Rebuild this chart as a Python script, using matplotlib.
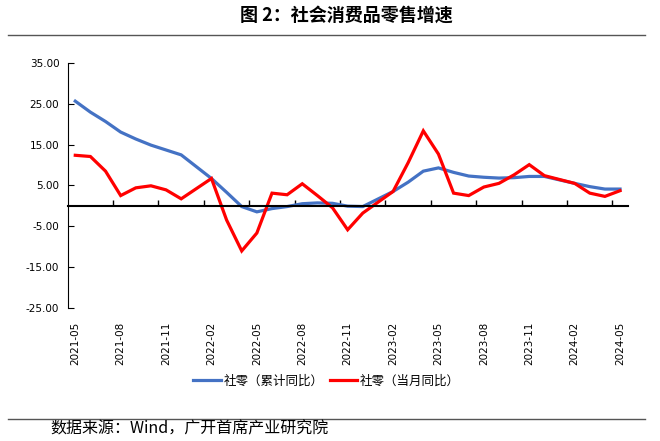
import numpy as np
import matplotlib
matplotlib.use("Agg")
import matplotlib.pyplot as plt
from matplotlib.lines import Line2D
from matplotlib.ticker import FormatStrFormatter

plt.rcParams['font.family'] = ['Noto Sans CJK SC', 'DejaVu Sans']

# months 2021-05 .. 2024-05, January has no separate release
months = []
for y in range(2021, 2025):
    for m in range(1, 13):
        s = f"{y}-{m:02d}"
        if "2021-05" <= s <= "2024-05":
            months.append(s)

nan = np.nan
cum_yoy = [25.7, 23.0, 20.7, 18.1, 16.4, 14.9, 13.7, 12.5, nan, 6.7, 3.3, -0.2,
           -1.5, -0.7, -0.2, 0.5, 0.7, 0.6, -0.1, -0.2, nan, 3.5, 5.8, 8.5,
           9.3, 8.2, 7.3, 7.0, 6.8, 6.9, 7.2, 7.2, nan, 5.5, 4.7, 4.1, 4.1]
month_yoy = [12.4, 12.1, 8.5, 2.5, 4.4, 4.9, 3.9, 1.7, nan, 6.7, -3.5, -11.1,
             -6.7, 3.1, 2.7, 5.4, 2.5, -0.5, -5.9, -1.8, nan, 3.5, 10.6, 18.4,
             12.7, 3.1, 2.5, 4.6, 5.5, 7.6, 10.1, 7.4, nan, 5.5, 3.1, 2.3, 3.7]

series_names = ["社零（累计同比）", "社零（当月同比）"]
colors = ["#4472C4", "#FF0000"]

W, H = 660, 441
fig = plt.figure(figsize=(W / 100, H / 100), dpi=100)
ax = fig.add_axes([67.7 / W, 1 - 307.5 / H, (627.6 - 67.7) / W, (307.5 - 63.3) / H])

x = np.arange(len(months))
for vals, name, c in zip([cum_yoy, month_yoy], series_names, colors):
    v = np.array(vals)
    ok = ~np.isnan(v)
    ax.plot(x[ok], v[ok], color=c, lw=2.3, label=name, solid_joinstyle='miter')

ax.set_xlim(-0.5, len(months) - 0.5)
ax.set_ylim(-25, 35)
ax.set_yticks(np.arange(-25, 36, 10))
ax.yaxis.set_major_formatter(FormatStrFormatter('%.2f'))
ax.tick_params(axis='y', direction='in', length=4, width=0.8, labelsize=7.5, pad=6)
for lab in ax.get_yticklabels():
    lab.set_fontfamily('DejaVu Sans')

for s in ['top', 'right']:
    ax.spines[s].set_visible(False)
ax.spines['left'].set_linewidth(0.8)

# category axis crossing at zero, tick marks between categories
ax.spines['bottom'].set_position(('data', 0))
ax.spines['bottom'].set_linewidth(1.5)
ax.set_xticks(np.arange(2.5, len(months) - 1, 3))
ax.tick_params(axis='x', direction='in', length=4, width=1, labelbottom=False)

sec = ax.secondary_xaxis('bottom')
sec.set_xticks(x[::3], [months[i] for i in x[::3]], rotation=90)
sec.tick_params(length=0, labelsize=7.5, pad=10)
sec.spines['bottom'].set_visible(False)
for lab in sec.get_xticklabels():
    lab.set_fontfamily('DejaVu Sans')

fig.legend(loc='center', bbox_to_anchor=(326.5 / W, 1 - 381 / H), ncol=2,
           frameon=False, fontsize=9, handlelength=2.2, handletextpad=0.2,
           columnspacing=0.5)

fig.text(346.5 / W, 1 - 15 / H, "图 2：社会消费品零售增速", ha='center', va='center',
         fontsize=13, fontweight='bold')
fig.add_artist(Line2D([8 / W, 645 / W], [1 - 35 / H, 1 - 35 / H], color='#555555', lw=1))
fig.add_artist(Line2D([8 / W, 645 / W], [1 - 419 / H, 1 - 419 / H], color='#555555', lw=1))
fig.text(50 / W, 1 - 429 / H, "数据来源：Wind，广开首席产业研究院", ha='left', va='center',
         fontsize=11.5)

fig.savefig("out.png", dpi=100)
